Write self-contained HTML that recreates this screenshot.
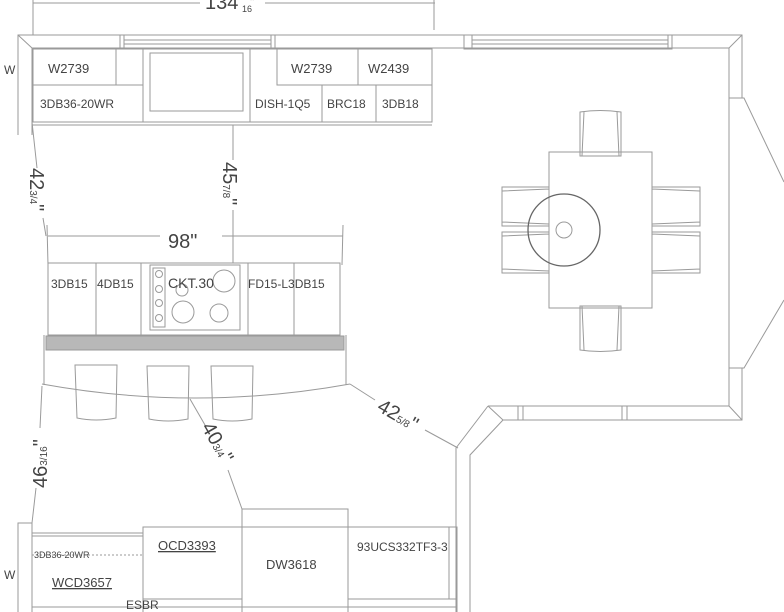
<!DOCTYPE html>
<html><head><meta charset="utf-8"><style>
html,body{margin:0;padding:0;background:#fff;}
svg{display:block;}
text{font-family:"Liberation Sans",sans-serif;fill:#444;}
</style></head><body>
<svg width="784" height="612" viewBox="0 0 784 612" xmlns="http://www.w3.org/2000/svg">
<g fill="none" stroke="#9a9a9a" stroke-width="1">
<line x1="33" y1="3" x2="200" y2="3"/><line x1="265" y1="3" x2="435" y2="3"/>
<line x1="33" y1="0" x2="33" y2="35"/><line x1="434" y1="0" x2="434" y2="30"/>
<polyline points="18,135 18,35 742,35 742,98"/>
<polyline points="32,135 32,48 729,48 729,98"/>
<line x1="18" y1="35" x2="32" y2="48"/>
<line x1="729" y1="48" x2="742" y2="35"/>
<rect x="120" y="35" width="155" height="14"/>
<line x1="124" y1="40" x2="271" y2="40"/><line x1="124" y1="44" x2="271" y2="44"/>
<line x1="124" y1="35" x2="124" y2="49"/><line x1="271" y1="35" x2="271" y2="49"/>
<rect x="464" y="35" width="208" height="14"/>
<line x1="472" y1="40" x2="668" y2="40"/><line x1="472" y1="44" x2="668" y2="44"/>
<line x1="472" y1="35" x2="472" y2="49"/><line x1="668" y1="35" x2="668" y2="49"/>
<rect x="33" y="49" width="399" height="73"/>
<polyline points="33,85 116,85 116,49"/>
<line x1="33" y1="85" x2="143" y2="85"/>
<line x1="143" y1="49" x2="143" y2="122"/><line x1="250" y1="49" x2="250" y2="122"/>
<rect x="150" y="53" width="93" height="58"/>
<polyline points="277,49 277,85 432,85"/>
<line x1="358" y1="49" x2="358" y2="85"/>
<line x1="322" y1="85" x2="322" y2="122"/><line x1="376" y1="85" x2="376" y2="122"/>
<line x1="32" y1="125" x2="432" y2="125"/>
<polyline points="729,98 744,98 784,182"/>
<polyline points="784,300 744,368 729,368"/>
<line x1="729" y1="98" x2="729" y2="368"/>
<polyline points="729,368 729,406 488,406"/>
<polyline points="742,368 742,420 503,420"/>
<line x1="729" y1="406" x2="742" y2="420"/>
<rect x="518" y="406" width="109" height="14"/>
<line x1="523" y1="406" x2="523" y2="420"/><line x1="622" y1="406" x2="622" y2="420"/>
<polyline points="488,406 456,448 456,612"/>
<polyline points="503,420 470,455 470,612"/>
<line x1="488" y1="406" x2="503" y2="420"/>
<rect x="549" y="152" width="103" height="156"/>
<path d="M580,112 Q600,109 621,112 L621,156 L580,156 Z M584,112 L582,156 M617,112 L619,156"/>
<path d="M580,350 Q600,353 621,350 L621,306 L580,306 Z M584,350 L582,306 M617,350 L619,306"/>
<path d="M502,187 L549,187 L549,226 L502,226 Z M502,191 L549,189 M502,222 L549,224"/>
<path d="M502,232 L549,232 L549,273 L502,273 Z M502,236 L549,234 M502,269 L549,271"/>
<path d="M700,187 L652,187 L652,226 L700,226 Z M700,191 L652,189 M700,222 L652,224"/>
<path d="M700,232 L652,232 L652,273 L700,273 Z M700,236 L652,234 M700,269 L652,271"/>
<circle cx="564" cy="230" r="8"/>
<line x1="48" y1="236" x2="160" y2="236"/><line x1="222" y1="236" x2="343" y2="236"/>
<line x1="47" y1="225" x2="48" y2="265"/><line x1="343" y1="225" x2="342" y2="265"/>
<rect x="48" y="263" width="292" height="72"/>
<line x1="96" y1="263" x2="96" y2="335"/><line x1="141" y1="263" x2="141" y2="335"/>
<line x1="248" y1="263" x2="248" y2="335"/><line x1="294" y1="263" x2="294" y2="335"/>
<rect x="150" y="265" width="90" height="65"/>
<rect x="153" y="268" width="12" height="59"/>
<circle cx="159" cy="274" r="3.5"/><circle cx="159" cy="289" r="3.5"/><circle cx="159" cy="303" r="3.5"/><circle cx="159" cy="318" r="3.5"/>
<circle cx="183" cy="312" r="11"/><circle cx="219" cy="313" r="9"/><circle cx="224" cy="281" r="11"/><circle cx="182" cy="290" r="6"/>
<line x1="44" y1="335" x2="44" y2="385"/><line x1="346" y1="335" x2="346" y2="385"/>
<path d="M42,384 Q195,412 350,384"/>
<path d="M75,365 L117,365 L116,418 Q96,422 77,418 Z"/>
<path d="M147,366 L189,366 L188,419 Q168,423 149,419 Z"/>
<path d="M211,366 L253,366 L252,419 Q232,423 213,419 Z"/>
<line x1="32" y1="122" x2="37" y2="168"/><line x1="43" y1="218" x2="46" y2="236"/>
<line x1="233" y1="125" x2="233" y2="160"/><line x1="233" y1="210" x2="233" y2="263"/>
<line x1="42" y1="386" x2="40" y2="428"/><line x1="36" y1="488" x2="32" y2="523"/>
<line x1="190" y1="399" x2="205" y2="425"/><line x1="228" y1="470" x2="242" y2="509"/>
<line x1="350" y1="384" x2="375" y2="400"/><line x1="425" y1="430" x2="458" y2="448"/>
<polyline points="18,612 18,523 32,523 32,612"/>
<line x1="32" y1="533" x2="143" y2="533"/><line x1="32" y1="536" x2="143" y2="536"/>
<line x1="32" y1="555" x2="143" y2="555" stroke-dasharray="2,2"/>
<rect x="143" y="527" width="99" height="90"/>
<rect x="242" y="509" width="106" height="110"/>
<line x1="242" y1="527" x2="348" y2="527"/>
<rect x="348" y="527" width="109" height="92"/>
<line x1="449" y1="527" x2="449" y2="599"/>
<line x1="32" y1="607" x2="457" y2="607"/>
<line x1="143" y1="599" x2="242" y2="599"/><line x1="348" y1="599" x2="457" y2="599"/>
</g>
<circle cx="564" cy="230" r="36" fill="none" stroke="#666" stroke-width="1.3"/>
<rect x="46" y="336" width="298" height="14" fill="#b8b8b8" stroke="#999"/>
<g font-size="13">
<text x="48" y="73">W2739</text>
<text x="291" y="73">W2739</text>
<text x="368" y="73">W2439</text>
<text x="40" y="108" font-size="12">3DB36-20WR</text>
<text x="255" y="108" font-size="12">DISH-1Q5</text>
<text x="327" y="108" font-size="12">BRC18</text>
<text x="382" y="108" font-size="12">3DB18</text>
<text x="51" y="288" font-size="12">3DB15</text>
<text x="97" y="288" font-size="12">4DB15</text>
<text x="168" y="288" font-size="14">CKT.30</text>
<text x="248" y="288" font-size="12">FD15-L3DB15</text>
<text x="158" y="550" text-decoration="underline">OCD3393</text>
<text x="266" y="569">DW3618</text>
<text x="357" y="551" font-size="12">93UCS332TF3-3</text>
<text x="52" y="587" text-decoration="underline">WCD3657</text>
<text x="126" y="609" font-size="12">ESBR</text>
<text x="4" y="74" font-size="12">W</text>
<text x="4" y="579" font-size="12">W</text>
<text x="34" y="558" font-size="9" fill="#888">3DB36-20WR</text>
<text x="205" y="9" font-size="20">134</text><text x="242" y="12" font-size="9">16</text><text x="250" y="6" font-size="12">"</text>
<text x="168" y="248" font-size="20">98"</text>
</g>
<g font-size="20">
<text transform="translate(30,168) rotate(90)">42<tspan font-size="10">3/4</tspan>"</text>
<text transform="translate(223,162) rotate(90)">45<tspan font-size="10">7/8</tspan>"</text>
<text transform="translate(47,488) rotate(-90)">46<tspan font-size="10">3/16</tspan>"</text>
<text transform="translate(201,427) rotate(60)">40<tspan font-size="10">3/4</tspan>"</text>
<text transform="translate(376,410) rotate(30)">42<tspan font-size="10">5/8</tspan>"</text>
</g>
</svg>
</body></html>
